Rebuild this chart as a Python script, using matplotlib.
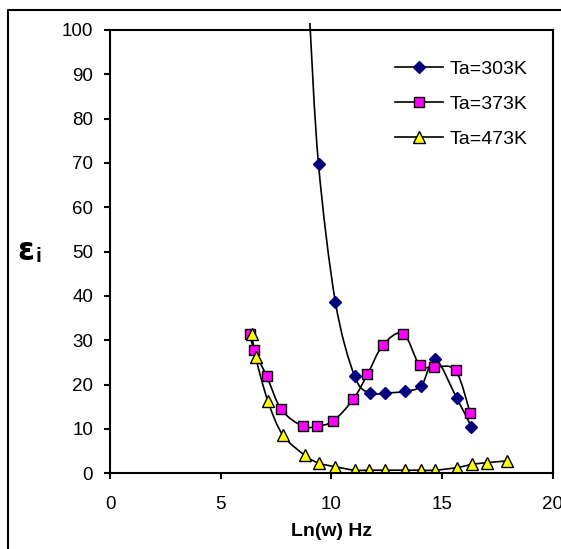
import numpy as np
import matplotlib
matplotlib.use("Agg")
import matplotlib.pyplot as plt
from matplotlib.path import Path
from matplotlib.patches import PathPatch
from matplotlib.lines import Line2D

plt.rcParams['font.family'] = ['Liberation Sans', 'DejaVu Sans']

# data (x = Ln(w), y = eps_i)
x_303 = [9.03, 9.42, 10.18, 11.05, 11.73, 12.44, 13.34, 14.07, 14.70, 15.67, 16.33]
y_303 = [101.6, 69.7, 38.7, 21.9, 18.1, 18.1, 18.5, 19.8, 25.7, 16.9, 10.5]

x_373 = [6.32, 6.51, 7.08, 7.74, 8.71, 9.34, 10.08, 10.99, 11.63, 12.34, 13.25,
         13.99, 14.64, 15.61, 16.28]
y_373 = [31.5, 27.8, 21.9, 14.4, 10.6, 10.6, 11.8, 16.7, 22.3, 29.0, 31.5,
         24.4, 24.0, 23.2, 13.5]

x_473 = [6.41, 6.58, 7.14, 7.80, 8.79, 9.43, 10.16, 11.05, 11.71, 12.42, 13.33,
         14.05, 14.70, 15.69, 16.35, 17.04, 17.95]
y_473 = [31.4, 26.2, 16.2, 8.7, 4.1, 2.3, 1.5, 0.7, 0.7, 0.7, 0.7,
         0.7, 0.7, 1.3, 2.0, 2.4, 2.8]

labels = ["Ta=303K", "Ta=373K", "Ta=473K"]
x_ticks = [0, 5, 10, 15, 20]
y_ticks = [0, 10, 20, 30, 40, 50, 60, 70, 80, 90, 100]


def smooth_path(xs, ys):
    # excel-like smoothed line: bezier segments through every point
    pts = np.column_stack([xs, ys])
    n = len(pts)
    verts = [pts[0]]
    codes = [Path.MOVETO]
    for i in range(n - 1):
        p0 = pts[i - 1] if i > 0 else pts[i]
        p1 = pts[i]
        p2 = pts[i + 1]
        p3 = pts[i + 2] if i + 2 < n else pts[i + 1]
        verts += [p1 + (p2 - p0) / 6, p2 - (p3 - p1) / 6, p2]
        codes += [Path.CURVE4] * 3
    return Path(verts, codes)


fig = plt.figure(figsize=(5.61, 5.49), dpi=100)
ax = fig.add_axes([110 / 561, 1 - 473.3 / 549, 442.7 / 561, 443.3 / 549])

series = [
    (x_303, y_303, 'D', '#000080', '#000080', 6.3),
    (x_373, y_373, 's', '#FF00FF', 'black', 7.0),
    (x_473, y_473, '^', '#FFFF00', 'black', 8.3),
]

handles = []
for (xs, ys, mk, fc, ec, ms), lab in zip(series, labels):
    patch = PathPatch(smooth_path(xs, ys), facecolor='none', edgecolor='black',
                      lw=1.2, transform=ax.transData, clip_on=False)
    ax.add_patch(patch)
    keep = [i for i, v in enumerate(ys) if v <= 100]
    ax.plot(xs, ys, ls='none', marker=mk, ms=ms, mfc=fc, mec=ec, mew=1.0,
            markevery=keep)
    handles.append(Line2D([], [], color='black', lw=1.2, marker=mk, ms=ms,
                          mfc=fc, mec=ec, mew=1.0))

ax.set_xlim(0, 20)
ax.set_ylim(0, 100)
ax.set_xticks(x_ticks)
ax.set_yticks(y_ticks)
ax.tick_params(axis='both', direction='out', length=4.3, width=1.5,
               labelsize=13.5, top=False, right=False)
ax.tick_params(axis='y', pad=7.9)
ax.tick_params(axis='x', pad=12)
for sp in ax.spines.values():
    sp.set_linewidth(1.5)

ax.legend(handles, labels, loc='upper left', bbox_to_anchor=(0.644, 0.932),
          frameon=False, fontsize=14, handlelength=2.47, handletextpad=0.31,
          labelspacing=0.9, borderpad=0, borderaxespad=0)

ax.set_xlabel("Ln(w) Hz", fontsize=14, fontweight='bold')
ax.xaxis.label.set_va('center')
ax.xaxis.set_label_coords(0.5, (473.3 - 531) / 443.3)

fig.text(26 / 561, 1 - 251.5 / 549, "ε", fontsize=22, fontweight='bold',
         family=['DejaVu Sans'], ha='center', va='center')
fig.text(38.5 / 561, 1 - 257 / 549, "i", fontsize=15, fontweight='bold',
         ha='center', va='center')

# outer chart frame (left and top edges visible)
fig.add_artist(Line2D([8 / 561, 8 / 561, 1.0], [0.0, 1 - 10.3 / 549, 1 - 10.3 / 549],
                      transform=fig.transFigure, color='black', lw=1.5))

fig.savefig("out.png", dpi=100)
